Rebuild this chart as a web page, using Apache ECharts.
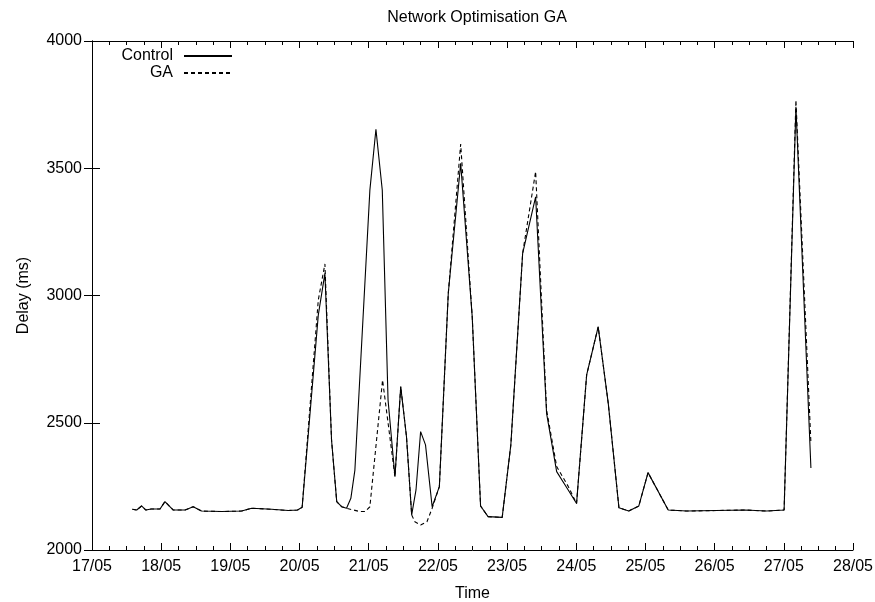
<!DOCTYPE html>
<html>
<head>
<meta charset="utf-8">
<script src="https://cdn.jsdelivr.net/npm/echarts@6/dist/echarts.min.js"></script>
<style>
  html, body { margin: 0; padding: 0; background: #fff; }
  #chart { width: 875px; height: 602px; }
</style>
</head>
<body>
<div id="chart"></div>
<script>
// hours since 17/05 00:00
const controlHours = [14.0, 15.5, 17.2, 18.7, 20.5, 23.6, 25.3, 28.2, 32.3, 35.1, 38.0, 45.0, 51.9, 55.4, 62.3, 68.1, 71.3,
  72.9, 78.5, 80.8, 83.1, 84.9, 86.6, 88.3, 89.8, 91.2, 96.4, 98.5, 100.7, 102.7, 105.1, 107.1, 109.1, 110.9, 112.4,
  114.0, 115.7, 118.0, 120.5, 123.6, 127.9, 131.9, 134.8, 137.4, 142.3, 145.3, 149.4, 153.9, 157.7, 161.2, 165.2,
  168.1, 171.6, 175.6, 179.1, 182.8, 186.2, 189.7, 192.9, 199.9, 206.3, 226.5, 234.0, 240.1, 244.2, 249.4];
const controlDelay = [2160, 2157, 2173, 2157, 2161, 2161, 2190, 2157, 2157, 2170, 2153, 2151, 2153, 2164, 2160, 2155, 2157,
  2168, 2923, 3087, 2432, 2190, 2170, 2164, 2203, 2314, 3414, 3653, 3414, 2590, 2288, 2642, 2445, 2138, 2236,
  2465, 2413, 2170, 2249, 3009, 3519, 2917, 2173, 2131, 2128, 2413, 3166, 3388, 2537, 2308, 2236,
  2183, 2688, 2877, 2576, 2166, 2153, 2173, 2304, 2157, 2153, 2157, 2153, 2157, 3742, 2322];

const gaHours = [14.0, 15.5, 17.2, 18.7, 20.5, 23.6, 25.3, 28.2, 32.3, 35.1, 38.0, 45.0, 51.9, 55.4, 62.3, 68.1, 71.3,
  72.9, 78.5, 80.8, 83.1, 84.9, 86.6, 88.3, 92.9, 94.7, 96.4, 100.8, 105.1, 107.1, 109.1, 110.9, 112.0,
  114.0, 116.2, 118.0, 120.5, 123.6, 127.9, 131.9, 134.8, 137.4, 142.3, 145.3, 149.4, 153.9, 157.7, 161.2, 165.2,
  168.1, 171.6, 175.6, 179.1, 182.8, 186.2, 189.7, 192.9, 199.9, 206.3, 226.5, 234.0, 240.1, 244.2, 249.4];
const gaDelay = [2160, 2157, 2173, 2157, 2161, 2161, 2190, 2157, 2157, 2170, 2153, 2151, 2153, 2164, 2160, 2155, 2157,
  2168, 2982, 3124, 2432, 2190, 2170, 2164, 2151, 2151, 2170, 2668, 2288, 2642, 2445, 2138, 2111,
  2098, 2111, 2164, 2249, 3009, 3595, 2917, 2173, 2131, 2128, 2413, 3166, 3487, 2550, 2328, 2250,
  2183, 2688, 2877, 2576, 2166, 2153, 2173, 2304, 2157, 2153, 2157, 2153, 2157, 3768, 2420];

const dayLabels = ['17/05', '18/05', '19/05', '20/05', '21/05', '22/05', '23/05', '24/05', '25/05', '26/05', '27/05', '28/05'];

const font = 'Liberation Sans';
const black = '#000';

const chart = echarts.init(document.getElementById('chart'), null, { renderer: 'canvas' });

const xCommon = {
  type: 'value',
  min: 0,
  max: 264,
  interval: 24,
  axisLine: { show: true, lineStyle: { color: black, width: 1 } },
  axisTick: { show: true, inside: true, length: 7, lineStyle: { color: black } },
  minorTick: { show: true, splitNumber: 4, length: 4, lineStyle: { color: black } },
  splitLine: { show: false }
};
const yCommon = {
  type: 'value',
  min: 2000,
  max: 4000,
  interval: 500,
  axisLine: { show: true, lineStyle: { color: black, width: 1 } },
  axisTick: { show: true, inside: true, length: 8, lineStyle: { color: black } },
  splitLine: { show: false }
};

const legendBase = {
  right: 642,
  align: 'right',
  itemWidth: 48,
  itemHeight: 12,
  padding: 0,
  itemStyle: { color: 'transparent', borderColor: 'transparent', borderWidth: 0 },
  textStyle: { fontFamily: font, fontSize: 16, color: black, padding: [0, 6, 0, 0] }
};

chart.setOption({
  animation: false,
  backgroundColor: '#fff',
  textStyle: { fontFamily: font, color: black },
  title: {
    text: 'Network Optimisation GA',
    left: 472,
    textAlign: 'center',
    top: 5,
    textStyle: { fontFamily: font, fontSize: 16, fontWeight: 'normal', color: black }
  },
  legend: [
    Object.assign({}, legendBase, { data: ['Control'], top: 48 }),
    Object.assign({}, legendBase, { data: ['GA'], top: 65 })
  ],
  grid: { left: 92, right: 22, top: 41, bottom: 52, containLabel: false, outerBoundsMode: 'none' },
  xAxis: [
    Object.assign({}, xCommon, {
      position: 'bottom',
      name: 'Time',
      nameLocation: 'middle',
      nameGap: 36,
      nameTextStyle: { fontFamily: font, fontSize: 16, color: black },
      axisLabel: {
        fontFamily: font, fontSize: 16, color: black, margin: 9,
        formatter: v => dayLabels[Math.round(v / 24)]
      }
    }),
    Object.assign({}, xCommon, { position: 'top', axisLabel: { show: false } })
  ],
  yAxis: [
    Object.assign({}, yCommon, {
      position: 'left',
      name: 'Delay (ms)',
      nameLocation: 'middle',
      nameGap: 60,
      nameTextStyle: { fontFamily: font, fontSize: 16, color: black },
      axisLabel: { fontFamily: font, fontSize: 16, color: black, margin: 10, formatter: v => String(v) }
    }),
    Object.assign({}, yCommon, { position: 'right', axisLabel: { show: false } })
  ],
  series: [
    {
      name: 'Control',
      type: 'line',
      symbol: 'none',
      data: controlHours.map((h, i) => [h, controlDelay[i]]),
      lineStyle: { color: black, width: 1.1, type: 'solid' },
      itemStyle: { color: black },
      z: 3
    },
    {
      name: 'GA',
      type: 'line',
      symbol: 'none',
      data: gaHours.map((h, i) => [h, gaDelay[i]]),
      lineStyle: { color: black, width: 1.1, type: [4, 3] },
      itemStyle: { color: black },
      z: 2
    }
  ]
});
</script>
</body>
</html>
